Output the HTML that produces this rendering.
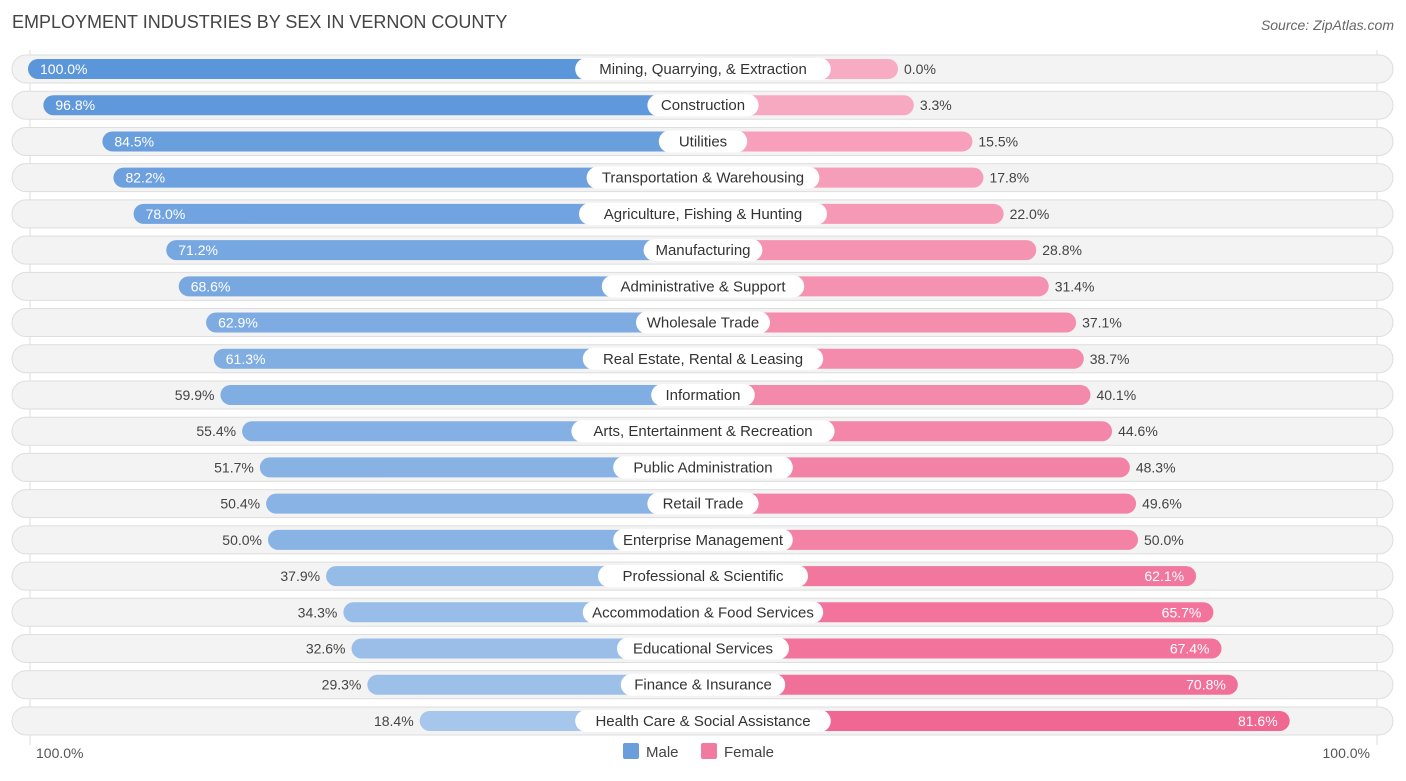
<!DOCTYPE html>
<html><head><meta charset="utf-8"><style>
body{margin:0;background:#fff;font-family:"Liberation Sans",sans-serif;}
svg text{font-family:"Liberation Sans",sans-serif;}
</style></head><body>
<svg id="chart" width="1406" height="776" xmlns="http://www.w3.org/2000/svg">
<text x="12" y="28" font-size="18" fill="#444">EMPLOYMENT INDUSTRIES BY SEX IN VERNON COUNTY</text>
<text x="1394" y="30" font-size="14" fill="#666" font-style="italic" text-anchor="end">Source: ZipAtlas.com</text>
<line x1="30" y1="50" x2="30" y2="745" stroke="#ddd"/>
<line x1="1377" y1="50" x2="1377" y2="745" stroke="#ddd"/>
<g id="rows"></g>
<text x="36" y="758" font-size="14" fill="#555">100.0%</text>
<text x="1370" y="758" font-size="14" fill="#555" text-anchor="end">100.0%</text>
<g><rect x="623" y="743" width="16" height="16" rx="2" fill="#6a9fdc"/><text x="646" y="757" font-size="15" fill="#444">Male</text></g>
<g><rect x="701" y="743" width="16" height="16" rx="2" fill="#f27aa0"/><text x="724" y="757" font-size="15" fill="#444">Female</text></g>
</svg>
<script>
const categories=["Mining, Quarrying, & Extraction","Construction","Utilities","Transportation & Warehousing","Agriculture, Fishing & Hunting","Manufacturing","Administrative & Support","Wholesale Trade","Real Estate, Rental & Leasing","Information","Arts, Entertainment & Recreation","Public Administration","Retail Trade","Enterprise Management","Professional & Scientific","Accommodation & Food Services","Educational Services","Finance & Insurance","Health Care & Social Assistance"];
const maleValues=[100.0,96.8,84.5,82.2,78.0,71.2,68.6,62.9,61.3,59.9,55.4,51.7,50.4,50.0,37.9,34.3,32.6,29.3,18.4];
const femaleValues=[0.0,3.3,15.5,17.8,22.0,28.8,31.4,37.1,38.7,40.1,44.6,48.3,49.6,50.0,62.1,65.7,67.4,70.8,81.6];
const CX=703,OFF=195,SC=4.8,Y0=69,STEP=36.22;
const NS="http://www.w3.org/2000/svg";
const g=document.getElementById('rows');
function mk(t,a,p){const e=document.createElementNS(NS,t);for(const k in a)e.setAttribute(k,a[k]);(p||g).appendChild(e);return e;}
function mix(a,b,t){return 'rgb('+a.map((v,i)=>Math.round(v+(b[i]-v)*t)).join(',')+')';}
const mLight=[170,200,236],mDark=[92,150,218],fLight=[248,172,196],fDark=[240,100,144];
function xm(v){return CX-OFF-v*SC;}
function xf(v){return CX+OFF+v*SC;}
categories.forEach((c,i)=>{
const y=Y0+i*STEP;
const row=mk('g',{});


mk('rect',{x:12,y:y-14,width:1381,height:28,rx:14,fill:'#f3f3f3',stroke:'#dedede'},row);
const mv=maleValues[i],fv=femaleValues[i];
const mb=mk('rect',{x:xm(mv),y:y-10,width:CX-xm(mv),height:20,rx:10,fill:mix(mLight,mDark,Math.max(0,(mv-15)/85))},row);


const fb=mk('rect',{x:CX,y:y-10,width:xf(fv)-CX,height:20,rx:10,fill:mix(fLight,fDark,Math.min(1,fv/85))},row);


const lw=c.length*7.6+20;
const lb=mk('rect',{x:CX-lw/2,y:y-11,width:lw,height:22,rx:11,fill:'#fff'},row);


const lt=mk('text',{x:CX,y:y+5,'font-size':15,fill:'#333','text-anchor':'middle'},row);lt.textContent=c;


const min=mv>=60;
const mt=mk('text',{x:min?xm(mv)+12:xm(mv)-6,y:y+5,'font-size':14,fill:min?'#fff':'#444','text-anchor':min?'start':'end'},row);
mt.textContent=mv.toFixed(1)+'%';


const fin=fv>=60;
const ft=mk('text',{x:fin?xf(fv)-12:xf(fv)+6,y:y+5,'font-size':14,fill:fin?'#fff':'#444','text-anchor':fin?'end':'start'},row);
ft.textContent=fv.toFixed(1)+'%';


});
</script>
</body></html>
